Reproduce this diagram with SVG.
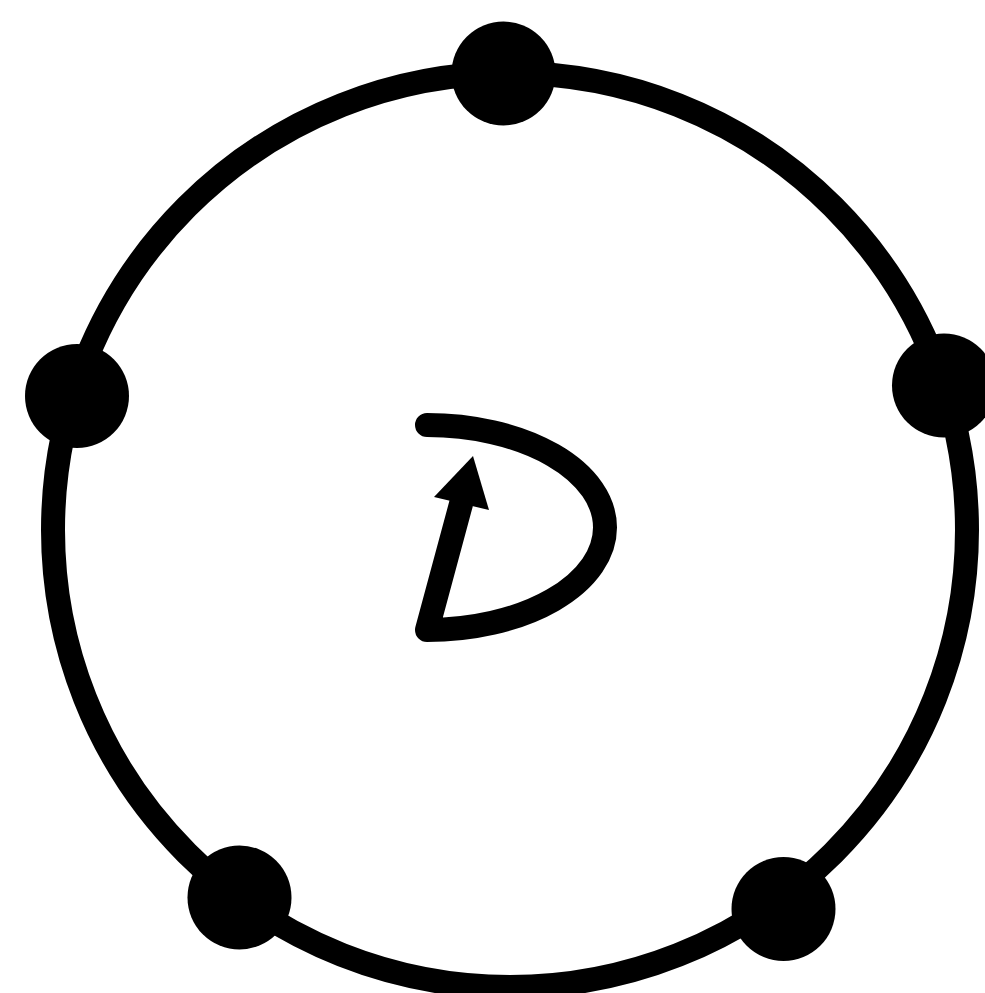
<svg xmlns="http://www.w3.org/2000/svg" width="985" height="993" viewBox="0 0 985 993">
<style>
.ring{fill:none;stroke:#000;stroke-width:24}
.dot{fill:#000}
.loop{fill:none;stroke:#000;stroke-width:24;stroke-linecap:round;stroke-linejoin:round}
</style>
<rect width="985" height="993" fill="#fff"/>
<g id="connectors">
<circle class="ring" cx="510" cy="530" r="457"/>
<path class="loop" d="M427,425 A178,102.5 0 0 1 427,630 L461,504"/>
<polygon points="473,456 434,497 489,510" fill="#000"/>
</g>
<g id="node-top"><circle class="dot" cx="503.5" cy="73.5" r="52"/></g>
<g id="node-left"><circle class="dot" cx="77" cy="396" r="52"/></g>
<g id="node-right"><circle class="dot" cx="944" cy="385.5" r="52"/></g>
<g id="node-bottom-left"><circle class="dot" cx="239.5" cy="897.5" r="52"/></g>
<g id="node-bottom-right"><circle class="dot" cx="783.5" cy="909" r="52"/></g>
</svg>
